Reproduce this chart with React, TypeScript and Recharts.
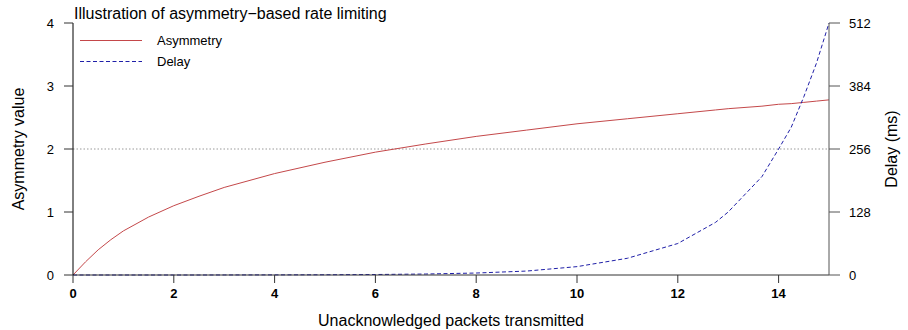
import { LineChart, Line, XAxis, YAxis, ReferenceLine } from "recharts";

// Unacknowledged packets (x) with the asymmetry value and delay read at each point
const packets = [0, 0.25, 0.5, 0.75, 1, 1.25, 1.5, 2, 2.5, 3, 4, 5, 6, 7, 8, 9, 10, 11, 12, 12.75, 13, 13.67, 14, 14.25, 14.5, 14.75, 15];
const asymmetry = [0, 0.21, 0.4, 0.56, 0.7, 0.81, 0.92, 1.1, 1.25, 1.39, 1.61, 1.79, 1.95, 2.08, 2.2, 2.3, 2.4, 2.48, 2.56, 2.62, 2.64, 2.68, 2.71, 2.72, 2.74, 2.76, 2.78];
const delayMs = [0, 0, 0, 0, 0, 0, 0, 0, 0, 0.1, 0.25, 0.5, 1, 2, 4, 8, 17, 34, 64, 107, 128, 200, 256, 300, 362, 430, 512];

const packetTicks = [0, 2, 4, 6, 8, 10, 12, 14];
const asymmetryTicks = [0, 1, 2, 3, 4];
const delayTicks = [0, 128, 256, 384, 512];

const data = packets.map((x, i) => ({ x, asymmetry: asymmetry[i], delay: delayMs[i] }));

const FONT = '"Liberation Sans", Arial, Helvetica, sans-serif';
const RED = "#c4484a";
const BLUE = "#1f1fa8";

export default function App() {
  return (
    <div style={{ position: "absolute", left: 0, top: 0, width: 908, height: 330, background: "#fff", fontFamily: FONT }}>
      <LineChart width={908} height={330} data={data} margin={{ top: 23, right: 0, bottom: 0, left: 0 }}>
        <XAxis
          dataKey="x"
          type="number"
          domain={[0, 15]}
          ticks={packetTicks}
          interval={0}
          height={55}
          tickSize={8}
          tickMargin={6}
          axisLine={{ stroke: "#333" }}
          tickLine={{ stroke: "#333" }}
          tick={{ fill: "#000", fontSize: 13, fontWeight: "bold", fontFamily: FONT }}
        />
        <YAxis
          yAxisId="a"
          domain={[0, 4]}
          ticks={asymmetryTicks}
          interval={0}
          width={73}
          tickSize={9}
          tickMargin={10}
          axisLine={{ stroke: "#000" }}
          tickLine={{ stroke: "#333" }}
          tick={{ fill: "#000", fontSize: 13, fontFamily: FONT }}
        />
        <YAxis
          yAxisId="d"
          orientation="right"
          domain={[0, 512]}
          ticks={delayTicks}
          interval={0}
          width={79}
          tickSize={11}
          tickMargin={9}
          axisLine={{ stroke: "#555" }}
          tickLine={{ stroke: "#555" }}
          tick={{ fill: "#000", fontSize: 13, fontFamily: FONT }}
        />
        <ReferenceLine yAxisId="a" y={2} stroke="#999" strokeDasharray="1.5 2" />
        <Line
          yAxisId="a"
          type="linear"
          dataKey="asymmetry"
          stroke={RED}
          strokeWidth={1}
          dot={false}
          isAnimationActive={false}
        />
        <Line
          yAxisId="d"
          type="linear"
          dataKey="delay"
          stroke={BLUE}
          strokeWidth={1}
          strokeDasharray="4 2.5"
          dot={false}
          isAnimationActive={false}
        />
      </LineChart>

      <div style={{ position: "absolute", left: 74, top: 4, fontSize: 16, lineHeight: "20px", whiteSpace: "nowrap" }}>
        Illustration of asymmetry−based rate limiting
      </div>

      <svg style={{ position: "absolute", left: 0, top: 0 }} width={908} height={330} pointerEvents="none">
        <line x1={80} x2={142} y1={40.5} y2={40.5} stroke={RED} strokeWidth={1} />
        <line x1={80} x2={142} y1={61.5} y2={61.5} stroke={BLUE} strokeWidth={1} strokeDasharray="4 2.5" />
        <text x={157} y={45} fontSize={13} fontFamily={FONT} fill="#000">Asymmetry</text>
        <text x={157} y={66} fontSize={13} fontFamily={FONT} fill="#000">Delay</text>
        <text x={24} y={149} fontSize={16} fontFamily={FONT} fill="#000" textAnchor="middle" transform="rotate(-90 24 149)">
          Asymmetry value
        </text>
        <text x={897} y={149} fontSize={16} fontFamily={FONT} fill="#000" textAnchor="middle" transform="rotate(-90 897 149)">
          Delay (ms)
        </text>
        <text x={451} y={326} fontSize={16} fontFamily={FONT} fill="#000" textAnchor="middle">
          Unacknowledged packets transmitted
        </text>
      </svg>
    </div>
  );
}
